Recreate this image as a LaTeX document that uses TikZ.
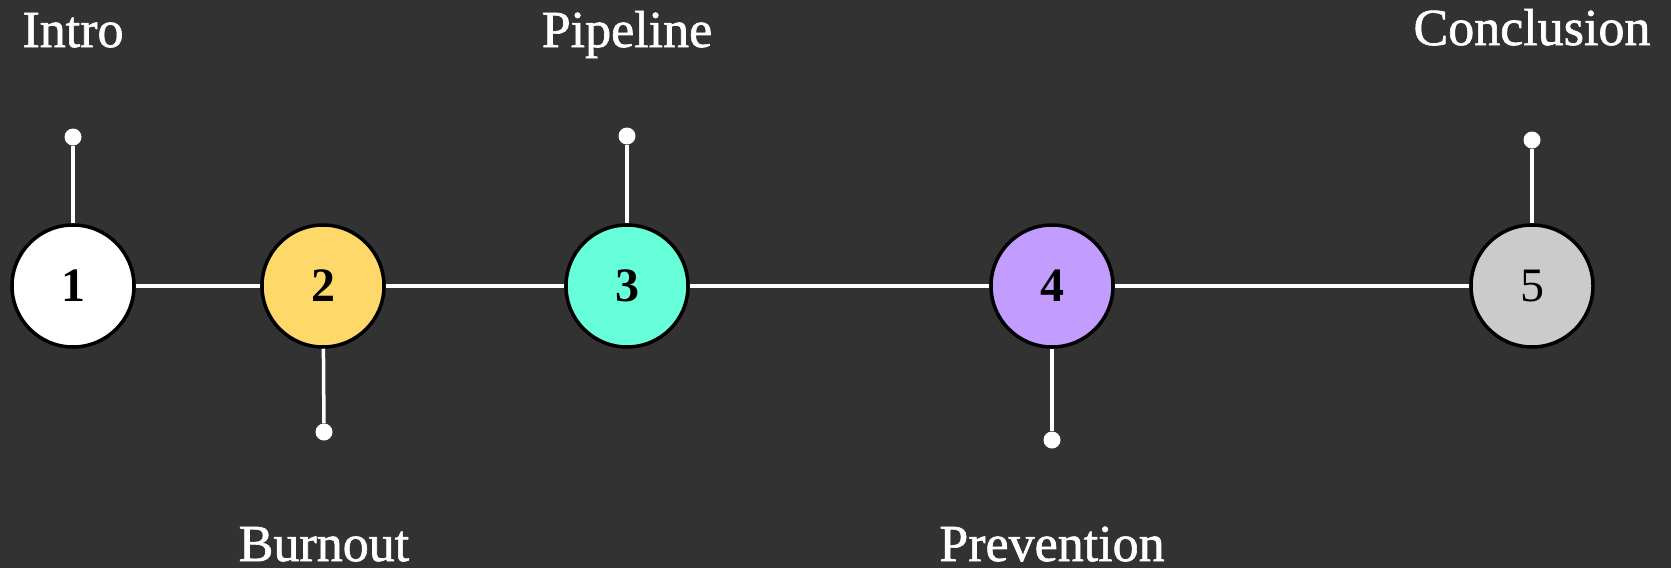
\documentclass[tikz,border=0pt]{standalone}
\usepackage{fontspec}
\setmainfont{Liberation Serif}
\newfontfamily\lblfont[FakeBold=1.2]{Liberation Serif}
\definecolor{bg}{HTML}{323232}
\definecolor{cyel}{HTML}{FED96A}
\definecolor{cmint}{HTML}{66FFD9}
\definecolor{cpurp}{HTML}{C29CFF}
\definecolor{cgray}{HTML}{CBCBCB}
\begin{document}
\begin{tikzpicture}[x=1pt,y=-1pt,
  stepnode/.style={circle,draw=black,line width=3.5pt,minimum size=122pt,inner sep=0pt,
    font=\fontsize{48}{50}\selectfont\bfseries,text=black},
  conn/.style={draw=white,line width=3.5pt},
  pin/.style={circle,fill=white,inner sep=0pt,minimum size=17pt},
  lbl/.style={text=white,anchor=base,inner sep=0pt,font=\lblfont\fontsize{52}{56}\selectfont}]
\fill[bg] (0,0) rectangle (1671,568);
\useasboundingbox (0,0) rectangle (1671,568);
% pins
\node[pin] (p1) at (73,137) {};
\node[pin] (p2) at (324,432) {};
\node[pin] (p3) at (627,136) {};
\node[pin] (p4) at (1052,440) {};
\node[pin] (p5) at (1532,140) {};
% circles
\node[stepnode,fill=white] (c1) at (73,286) {1};
\node[stepnode,fill=cyel] (c2) at (323,286) {2};
\node[stepnode,fill=cmint] (c3) at (627,286) {3};
\node[stepnode,fill=cpurp] (c4) at (1052,286) {4};
\node[stepnode,fill=cgray,font=\fontsize{48}{50}\selectfont] (c5) at (1532,286) {5};
% connectors
\draw[conn] (c1) -- (c2);
\draw[conn] (c2) -- (c3);
\draw[conn] (c3) -- (c4);
\draw[conn] (c4) -- (c5);
\draw[conn] (c1) -- (p1);
\draw[conn] (c2) -- (p2);
\draw[conn] (c3) -- (p3);
\draw[conn] (c4) -- (p4);
\draw[conn] (c5) -- (p5);
% labels
\node[lbl] (l1) at (73,47) {Intro};
\node[lbl] (l2) at (324,561) {Burnout};
\node[lbl] (l3) at (627,47) {Pipeline};
\node[lbl] (l4) at (1052,561) {Prevention};
\node[lbl] (l5) at (1532,45) {Conclusion};
\end{tikzpicture}
\end{document}
